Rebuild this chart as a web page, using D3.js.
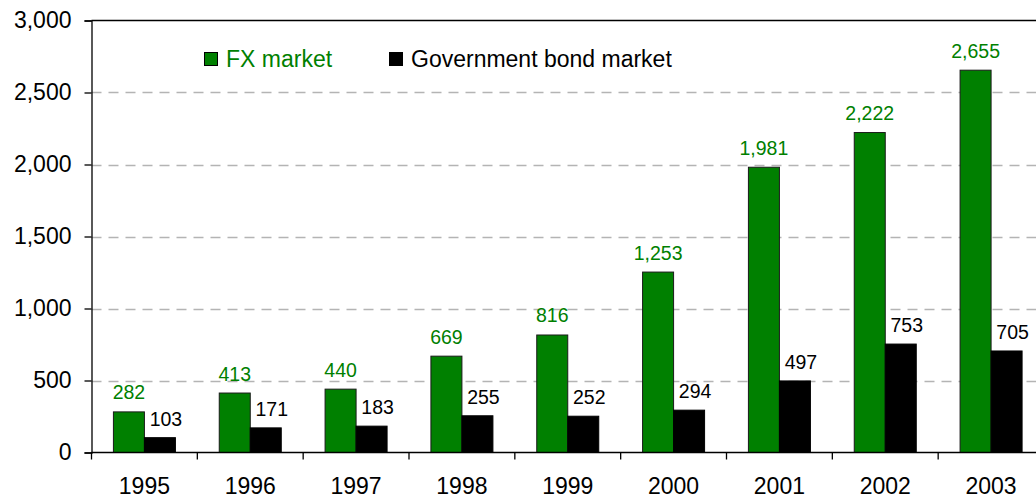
<!DOCTYPE html>
<html>
<head>
<meta charset="utf-8">
<script src="https://cdn.jsdelivr.net/npm/d3@7"></script>
<style>
  html, body { margin: 0; padding: 0; background: #fff; overflow: hidden; }
  svg { display: block; }
  text { font-family: Arial, "Liberation Sans", sans-serif; }
</style>
</head>
<body>
<svg id="chart" width="1036" height="499"></svg>
<script>
// Turnover by year
const years = ["1995", "1996", "1997", "1998", "1999", "2000", "2001", "2002", "2003"];
const fxMarket = [282, 413, 440, 669, 816, 1253, 1981, 2222, 2655];
const govBondMarket = [103, 171, 183, 255, 252, 294, 497, 753, 705];
const seriesNames = ["FX market", "Government bond market"];
const yTicks = [0, 500, 1000, 1500, 2000, 2500, 3000];

const GREEN = "#008000";
const svg = d3.select("#chart");

const plotLeft = 91.5, plotRight = 1044, plotTop = 20.5, plotBottom = 452.5;

const x = d3.scaleBand().domain(years).range([plotLeft, plotRight]).paddingInner(0).paddingOuter(0);
const y = d3.scaleLinear().domain([0, 3000]).range([plotBottom, plotTop]);
const fmt = d3.format(",");

const barW = 31;
const pairOffset = (x.bandwidth() - 2 * barW) / 2;

// horizontal dashed gridlines
svg.append("g")
  .selectAll("line")
  .data(yTicks.filter(d => d > 0 && d < 3000))
  .join("line")
  .attr("x1", plotLeft).attr("x2", plotRight)
  .attr("y1", d => Math.round(y(d)) + 0.5).attr("y2", d => Math.round(y(d)) + 0.5)
  .attr("stroke", "#b4b4b4")
  .attr("stroke-width", 1.3)
  .attr("stroke-dasharray", "10,7");

// top frame line
svg.append("line")
  .attr("x1", plotLeft).attr("x2", plotRight)
  .attr("y1", y(3000)).attr("y2", y(3000))
  .attr("stroke", "#000").attr("stroke-width", 1.3);

// bars
const groups = svg.append("g").selectAll("g")
  .data(years)
  .join("g")
  .attr("transform", d => `translate(${x(d) + pairOffset},0)`);

groups.append("rect")
  .attr("x", 0)
  .attr("y", (d, i) => y(fxMarket[i]))
  .attr("width", barW)
  .attr("height", (d, i) => y(0) - y(fxMarket[i]))
  .attr("fill", GREEN)
  .attr("stroke", "#1a1a1a")
  .attr("stroke-width", 1);

groups.append("rect")
  .attr("x", barW)
  .attr("y", (d, i) => y(govBondMarket[i]))
  .attr("width", barW)
  .attr("height", (d, i) => y(0) - y(govBondMarket[i]))
  .attr("fill", "#000")
  .attr("stroke", "#000")
  .attr("stroke-width", 1);

// value labels
groups.append("text")
  .attr("x", barW / 2)
  .attr("y", (d, i) => y(fxMarket[i]) - 12.5)
  .attr("text-anchor", "middle")
  .attr("fill", GREEN)
  .attr("font-size", 19.5)
  .text((d, i) => fmt(fxMarket[i]));

groups.append("text")
  .attr("x", barW * 1.5 + 6)
  .attr("y", (d, i) => y(govBondMarket[i]) - 12)
  .attr("text-anchor", "middle")
  .attr("fill", "#000")
  .attr("font-size", 19.5)
  .text((d, i) => fmt(govBondMarket[i]));

// y axis
const yAxis = svg.append("g")
  .attr("transform", `translate(${plotLeft},0)`)
  .call(d3.axisLeft(y).tickValues(yTicks).tickFormat(fmt).tickSize(7).tickPadding(13));
yAxis.select(".domain").attr("stroke", "#000").attr("stroke-width", 1.3);
yAxis.selectAll(".tick line").attr("stroke", "#000").attr("stroke-width", 1.3);
yAxis.selectAll(".tick text")
  .attr("font-size", 23).attr("fill", "#000")
  .attr("font-family", "Arial, 'Liberation Sans', sans-serif");

// x axis with ticks between categories
const xAxisG = svg.append("g").attr("transform", `translate(0,${plotBottom})`);
xAxisG.append("line")
  .attr("x1", plotLeft).attr("x2", plotRight)
  .attr("stroke", "#000").attr("stroke-width", 1.3);
xAxisG.selectAll("line.sep")
  .data(years)
  .join("line")
  .attr("class", "sep")
  .attr("x1", d => x(d)).attr("x2", d => x(d))
  .attr("y1", 0).attr("y2", 7)
  .attr("stroke", "#000").attr("stroke-width", 1.3);
xAxisG.selectAll("text")
  .data(years)
  .join("text")
  .attr("x", d => x(d) + x.bandwidth() / 2)
  .attr("y", 41.5)
  .attr("text-anchor", "middle")
  .attr("font-size", 23)
  .attr("fill", "#000")
  .text(d => d);

// legend
const legendItems = [
  { name: seriesNames[0], fill: GREEN, text: GREEN, x: 204 },
  { name: seriesNames[1], fill: "#000", text: "#000", x: 389 }
];
const legend = svg.append("g").selectAll("g")
  .data(legendItems)
  .join("g")
  .attr("transform", d => `translate(${d.x},52)`);
legend.append("rect")
  .attr("width", 13).attr("height", 13)
  .attr("x", 0.5).attr("y", 0.5)
  .attr("fill", d => d.fill)
  .attr("stroke", "#000").attr("stroke-width", 1);
legend.append("text")
  .attr("x", 22).attr("y", 14.5)
  .attr("font-size", 23)
  .attr("fill", d => d.text)
  .text(d => d.name);
</script>
</body>
</html>
